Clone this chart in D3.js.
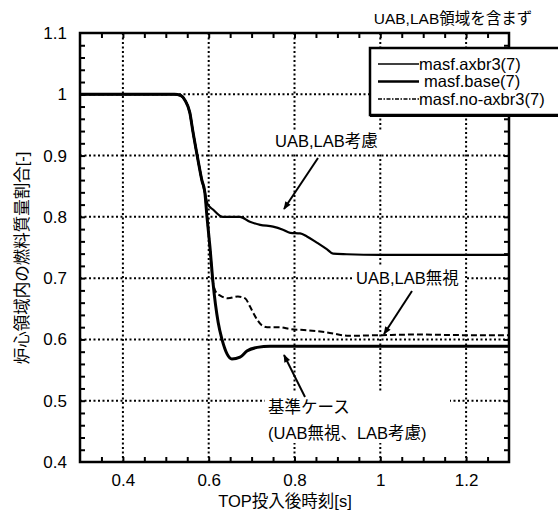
<!DOCTYPE html>
<html>
<head>
<meta charset="utf-8">
<script src="https://cdn.jsdelivr.net/npm/d3@7"></script>
<style>
  html, body { margin: 0; padding: 0; background: #fff; }
  svg { display: block; }
  text { font-family: "Liberation Sans", Arial, "Noto Sans CJK JP", sans-serif; fill: #000; }
</style>
</head>
<body>
<svg id="chart" width="558" height="514"></svg>
<script>
// Time [s] vs. fuel mass fraction in core region [-]
const xTicks = [0.4, 0.6, 0.8, 1.0, 1.2];
const yTicks = [0.4, 0.5, 0.6, 0.7, 0.8, 0.9, 1.0, 1.1];

// masf.axbr3(7) : UAB, LAB considered
const axbr3 = [
  [0.30, 1.000], [0.52, 1.000], [0.535, 0.998], [0.545, 0.990], [0.556, 0.970],
  [0.563, 0.940], [0.575, 0.893], [0.584, 0.860], [0.591, 0.840], [0.598, 0.820],
  [0.610, 0.812], [0.633, 0.800], [0.673, 0.800], [0.696, 0.792], [0.720, 0.787],
  [0.750, 0.784], [0.773, 0.779], [0.790, 0.774], [0.813, 0.773], [0.829, 0.768],
  [0.852, 0.758], [0.876, 0.747], [0.890, 0.740], [0.922, 0.739], [1.00, 0.738],
  [1.30, 0.738]
];

// masf.base(7) : base case
const base = [
  [0.30, 1.000], [0.52, 1.000], [0.535, 0.998], [0.545, 0.990], [0.556, 0.970],
  [0.563, 0.940], [0.575, 0.893], [0.584, 0.860], [0.591, 0.840], [0.596, 0.800],
  [0.603, 0.750], [0.610, 0.693], [0.622, 0.628], [0.631, 0.600], [0.643, 0.576],
  [0.654, 0.568], [0.673, 0.571], [0.689, 0.581], [0.713, 0.587], [0.743, 0.589],
  [1.30, 0.589]
];

// masf.no-axbr3(7) : UAB, LAB ignored
const noAxbr3 = [
  [0.30, 1.000], [0.52, 1.000], [0.535, 0.998], [0.545, 0.990], [0.556, 0.970],
  [0.563, 0.940], [0.575, 0.893], [0.584, 0.860], [0.591, 0.840], [0.596, 0.800],
  [0.603, 0.750], [0.610, 0.693], [0.618, 0.676], [0.626, 0.672], [0.645, 0.667],
  [0.668, 0.670], [0.685, 0.667], [0.696, 0.654], [0.708, 0.638], [0.724, 0.623],
  [0.736, 0.620], [0.766, 0.620], [0.790, 0.617], [0.830, 0.615], [0.871, 0.612],
  [0.927, 0.606], [1.004, 0.607], [1.083, 0.608], [1.20, 0.607], [1.30, 0.607]
];

const legendNames = ["masf.axbr3(7)", "masf.base(7)", "masf.no-axbr3(7)"];

const svg = d3.select("#chart");
const L = 80, R = 509, T = 33, B = 462;

const x = d3.scaleLinear().domain([0.3, 1.3]).range([L, R]);
const y = d3.scaleLinear().domain([0.4, 1.1]).range([B, T]);

const xMinor = d3.range(0.35, 1.2999, 0.05).map(v => +v.toFixed(2));
const yMinor = d3.range(0.42, 1.0999, 0.02).map(v => +v.toFixed(2));
const fmt = d => String(+d.toFixed(1));

// dotted grid
const grid = svg.append("g").attr("stroke", "#000").attr("stroke-width", 2)
  .attr("stroke-dasharray", "2,2.5");
grid.selectAll("line.gx").data(xTicks).join("line")
  .attr("x1", d => x(d)).attr("x2", d => x(d)).attr("y1", T).attr("y2", B);
grid.selectAll("line.gy").data(yTicks.filter(v => v > 0.4 && v < 1.1)).join("line")
  .attr("y1", d => y(d)).attr("y2", d => y(d)).attr("x1", L).attr("x2", R);

// white label panels over the grid
const panels = svg.append("g").attr("fill", "#fff");
panels.append("rect").attr("x", 272).attr("y", 130).attr("width", 114).attr("height", 22);
panels.append("rect").attr("x", 353).attr("y", 265).attr("width", 112).attr("height", 25);
panels.append("rect").attr("x", 265).attr("y", 393).attr("width", 185).attr("height", 50);

// curves
const line = d3.line().x(d => x(d[0])).y(d => y(d[1])).curve(d3.curveMonotoneX);
const curves = svg.append("g").attr("fill", "none").attr("stroke", "#000")
  .attr("stroke-linejoin", "round");
curves.append("path").datum(noAxbr3).attr("d", line)
  .attr("stroke-width", 2).attr("stroke-dasharray", "6,3");
curves.append("path").datum(axbr3).attr("d", line).attr("stroke-width", 2.2);
curves.append("path").datum(base).attr("d", line).attr("stroke-width", 3);

// frame
svg.append("rect").attr("x", L).attr("y", T).attr("width", R - L).attr("height", B - T)
  .attr("fill", "none").attr("stroke", "#000").attr("stroke-width", 2.5);

// inward ticks on all four sides
const tk = 5;
svg.append("g").attr("transform", `translate(0,${B})`)
  .call(d3.axisTop(x).tickValues(xMinor).tickSize(tk).tickFormat(""));
svg.append("g").attr("transform", `translate(0,${T})`)
  .call(d3.axisBottom(x).tickValues(xMinor).tickSize(tk).tickFormat(""));
svg.append("g").attr("transform", `translate(${L},0)`)
  .call(d3.axisRight(y).tickValues(yMinor).tickSize(tk).tickFormat(""));
svg.append("g").attr("transform", `translate(${R},0)`)
  .call(d3.axisLeft(y).tickValues(yMinor).tickSize(tk).tickFormat(""));

// tick labels
const xLab = svg.append("g").attr("transform", `translate(0,${B})`)
  .call(d3.axisBottom(x).tickValues(xTicks).tickSize(0).tickPadding(12).tickFormat(fmt));
const yLab = svg.append("g").attr("transform", `translate(${L},0)`)
  .call(d3.axisLeft(y).tickValues(yTicks).tickSize(0).tickPadding(13).tickFormat(fmt));
[xLab, yLab].forEach(g => {
  g.select(".domain").remove();
  g.selectAll("text").attr("font-size", 17)
    .attr("font-family", "'Liberation Sans', Arial, sans-serif");
});
svg.selectAll(".tick line").attr("stroke-width", 2);
svg.selectAll(".domain").attr("stroke", "none");

// axis titles
svg.append("text").attr("x", 285).attr("y", 507).attr("text-anchor", "middle")
  .attr("font-size", 16.5).text("TOP投入後時刻[s]");
svg.append("text").attr("transform", "translate(28,258) rotate(-90)")
  .attr("text-anchor", "middle").attr("font-size", 16.5).text("炉心領域内の燃料質量割合[-]");

// note above the legend
svg.append("text").attr("x", 453).attr("y", 24).attr("text-anchor", "middle")
  .attr("font-size", 15.5).text("UAB,LAB領域を含まず");

// legend
const lg = svg.append("g");
lg.append("rect").attr("x", 370).attr("y", 48).attr("width", 200).attr("height", 67)
  .attr("fill", "#fff").attr("stroke", "#000").attr("stroke-width", 2.5);
lg.append("line").attr("x1", 370).attr("x2", 570).attr("y1", 116).attr("y2", 116)
  .attr("stroke", "#000").attr("stroke-width", 2);
const legendStyles = [
  { w: 1.6, dash: null, dx: 0 },
  { w: 2.6, dash: null, dx: 5 },
  { w: 1.6, dash: "4,1.5,1.5,1.5", dx: 0 }
];
legendNames.forEach((name, i) => {
  const yy = 64 + i * 17.5;
  lg.append("line").attr("x1", 378).attr("x2", 419).attr("y1", yy).attr("y2", yy)
    .attr("stroke", "#000").attr("stroke-width", legendStyles[i].w)
    .attr("stroke-dasharray", legendStyles[i].dash);
  lg.append("text").attr("x", 419 + legendStyles[i].dx).attr("y", yy + 5.5)
    .attr("font-size", 16.5).text(name);
});

// annotations with arrows
svg.append("defs").append("marker").attr("id", "head")
  .attr("viewBox", "0 0 10 10").attr("refX", 9).attr("refY", 5)
  .attr("markerWidth", 10).attr("markerHeight", 8).attr("orient", "auto")
  .attr("markerUnits", "userSpaceOnUse")
  .append("path").attr("d", "M0,1 L10,5 L0,9 Z").attr("fill", "#000");

const notes = [
  { text: ["UAB,LAB考慮"], x: 275, y: 147, a: [318, 158, 284, 209] },
  { text: ["UAB,LAB無視"], x: 356, y: 284, a: [412, 291, 384, 334] },
  { text: ["基準ケース", "(UAB無視、LAB考慮)"], x: 268, y: 413, a: [305, 397, 284, 355] }
];
notes.forEach(n => {
  n.text.forEach((t, i) => {
    svg.append("text").attr("x", n.x).attr("y", n.y + i * 26).attr("font-size", 16.5).text(t);
  });
  svg.append("line").attr("x1", n.a[0]).attr("y1", n.a[1]).attr("x2", n.a[2]).attr("y2", n.a[3])
    .attr("stroke", "#000").attr("stroke-width", 2).attr("marker-end", "url(#head)");
});
</script>
</body>
</html>
